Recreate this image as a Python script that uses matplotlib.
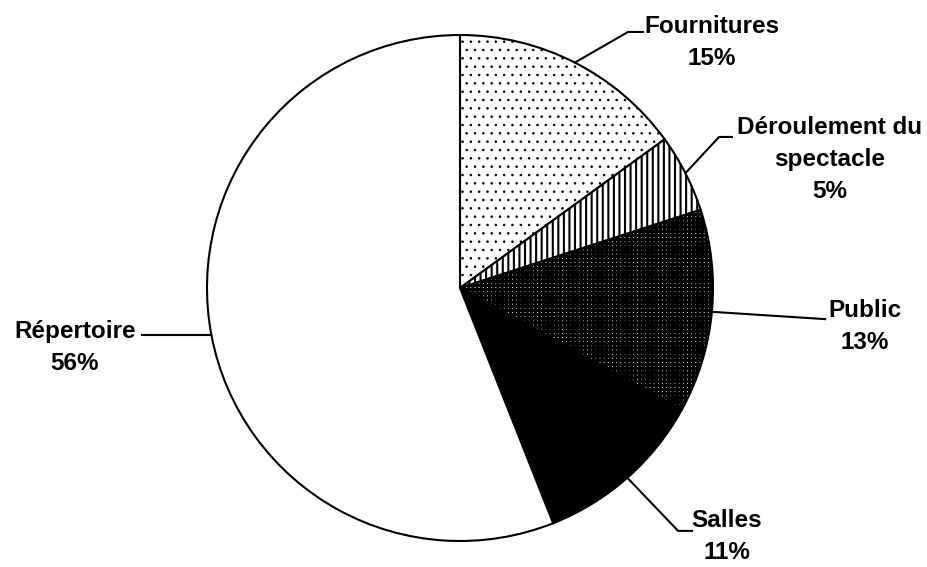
import numpy as np
import matplotlib
matplotlib.use("Agg")
import matplotlib.pyplot as plt

# data
labels = ["Fournitures", "Déroulement du\nspectacle", "Public", "Salles", "Répertoire"]
shares = [15, 5, 13, 11, 56]

# look of each slice
faces = ["white", "white", "white", "black", "white"]
hatches = ["..", "|||", "++++", None, None]
hatch_lw = [0.6, 1.5, 2.3, 1.0, 1.0]

# leader line elbows and label centres, in pie radius units
elbows = [(0.664, 1.012), (1.024, 0.597), (1.443, -0.123), (0.862, -0.960), (-1.257, None)]
ends = [(0.723, 1.012), (1.075, 0.597), (1.443, -0.123), (0.917, -0.960), (-1.257, None)]
text_pos = [(0.996, 0.972), (1.462, 0.506), (1.601, -0.152), (1.055, -0.982), (-1.522, -0.235)]

plt.rcParams['font.family'] = ['Liberation Sans', 'DejaVu Sans']
plt.rcParams['hatch.linewidth'] = 1.5

fig = plt.figure(figsize=(9.28, 5.67), dpi=100)
ax = fig.add_axes([207 / 928, 26 / 567, 506 / 928, 506 / 567])

wedges, _ = ax.pie(shares, startangle=90, counterclock=False, radius=1,
                   wedgeprops=dict(edgecolor="black", linewidth=1.5))
for w, fc, h, hl in zip(wedges, faces, hatches, hatch_lw):
    w.set_facecolor(fc)
    if h:
        w.set_hatch(h)
        if hasattr(w, "set_hatch_linewidth"):
            w.set_hatch_linewidth(hl)

ax.set_xlim(-1, 1)
ax.set_ylim(-1, 1)
ax.set_aspect("equal")
ax.axis("off")

for w, lab, s, el, en, tp in zip(wedges, labels, shares, elbows, ends, text_pos):
    ang = np.deg2rad((w.theta1 + w.theta2) / 2)
    x0, y0 = np.cos(ang), np.sin(ang)
    ex, ey = el
    nx, ny = en
    if ey is None:
        ey = y0
        ny = y0
    ax.plot([x0, ex, nx], [y0, ey, ny], color="black", lw=1.5, clip_on=False,
            solid_joinstyle="miter")
    ax.text(tp[0], tp[1], "%s\n%d%%" % (lab, s), ha="center", va="center",
            fontsize=17.5, fontweight="bold", linespacing=1.5, clip_on=False)

fig.savefig("out.png", dpi=100)
